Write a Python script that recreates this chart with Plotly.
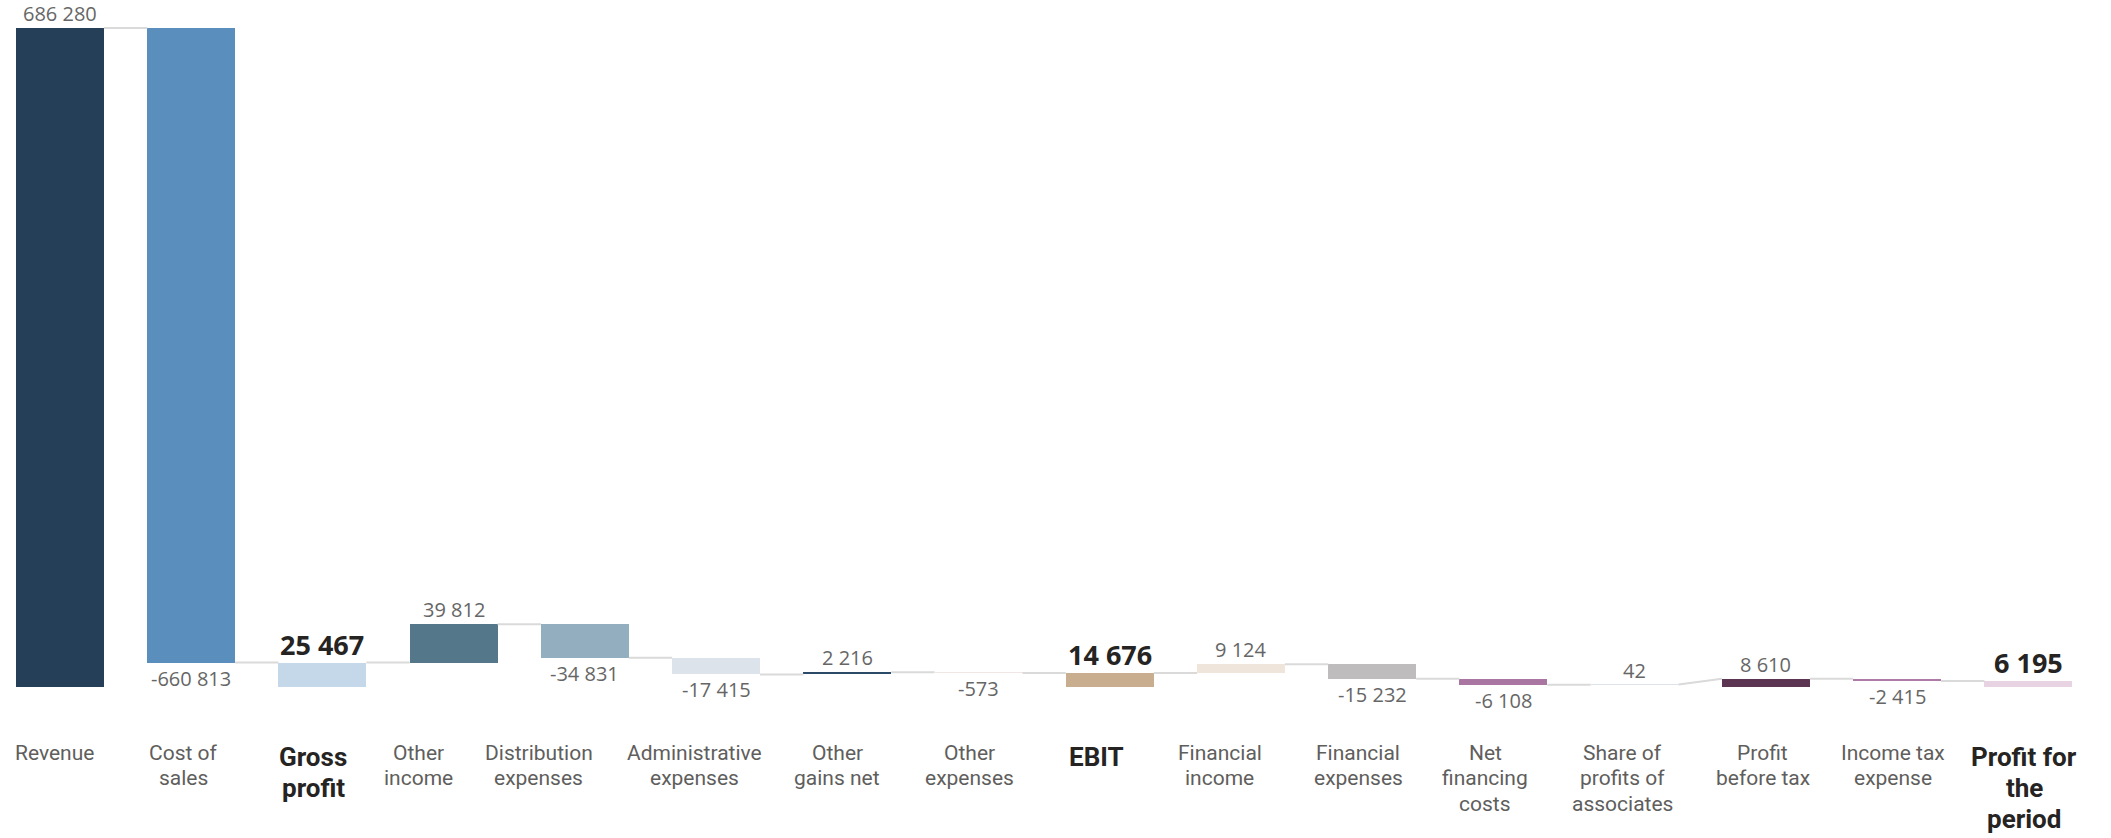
import plotly.graph_objects as go

categories = ["Revenue", "Cost of sales", "Gross profit", "Other income", "Distribution expenses",
              "Administrative expenses", "Other gains net", "Other expenses", "EBIT", "Financial income",
              "Financial expenses", "Net financing costs", "Share of profits of associates",
              "Profit before tax", "Income tax expense", "Profit for the period"]
tick_labels = ["Revenue", "Cost of<br>sales", "Gross<br>profit", "Other<br>income", "Distribution<br>expenses",
               "Administrative<br>expenses", "Other<br>gains net", "Other<br>expenses", "EBIT", "Financial<br>income",
               "Financial<br>expenses", "Net<br>financing<br>costs", "Share of<br>profits of<br>associates",
               "Profit<br>before tax", "Income tax<br>expense", "Profit for<br>the<br>period"]
values = [686280, -660813, 25467, 39812, -34831, -17415, 2216, -573, 14676, 9124, -15232, -6108, 42, 8610, -2415, 6195]
kinds = ["total", "delta", "total", "delta", "delta", "delta", "delta", "delta", "total", "delta",
         "delta", "delta", "delta", "total", "delta", "total"]
highlight = [False, False, True, False, False, False, False, False, True, False, False, False, False, False, False, True]
colors = ["#253F58", "#5A8EBD", "#C5D8E9", "#547789", "#93AEBF", "#DCE3EA", "#2B4A68", "#EEE7E3",
          "#C8AE8E", "#EFE5DB", "#BEBCBD", "#A976A2", "#DCE3EA", "#5C3553", "#AE7AA7", "#E8D3E2"]

# horizontal pixel offsets of the category labels (as laid out in the reference)
label_xshift = [-5, -8, -9, -35, -46, -22, -10, -9, -13, -21, -14, -18, -12, -3, -4, -4]

# compute bases and levels
bases, starts, ends = [], [], []
running = 0
for v, k in zip(values, kinds):
    if k == "total":
        bases.append(0)
        starts.append(v)
        ends.append(v)
        running = v
    else:
        bases.append(running)
        starts.append(running)
        running = running + v
        ends.append(running)

x = list(range(len(categories)))
bw = 0.67


def fmt(v):
    return f"{v:,}".replace(",", " ")


fig = go.Figure()

# connectors
cx, cy = [], []
for i in range(len(categories) - 1):
    cx += [x[i] + bw / 2, x[i + 1] - bw / 2, None]
    cy += [ends[i], starts[i + 1], None]
fig.add_trace(go.Scatter(x=cx, y=cy, mode="lines", line=dict(color="#DADADA", width=2),
                         hoverinfo="skip", showlegend=False))

fig.add_trace(go.Bar(
    x=x, y=values, base=bases, width=bw,
    marker=dict(color=colors, line=dict(width=0)),
    showlegend=False, hoverinfo="skip",
))

# value labels
for i, v in enumerate(values):
    top = max(bases[i], bases[i] + v)
    bot = min(bases[i], bases[i] + v)
    bold = highlight[i]
    if v >= 0:
        yv, ya, ys = top, "bottom", (-2 if bold else -1)
    else:
        yv, ya, ys = bot, "top", 0
    fig.add_annotation(
        x=x[i], y=yv, xref="x", yref="y", yanchor=ya, xanchor="center", yshift=ys,
        text=f"<b>{fmt(v)}</b>" if bold else fmt(v), showarrow=False,
        font=dict(family="Open Sans", size=27 if bold else 20,
                  color="#252423" if bold else "#666666"),
    )

# category labels, one annotation per line
for i, lab in enumerate(tick_labels):
    bold = highlight[i]
    lines = lab.split("<br>")
    first = 69.5 if bold else 65.5
    step = 31 if bold else 25.5
    for k, ln in enumerate(lines):
        fig.add_annotation(
            x=x[i], y=0, xref="x", yref="paper", yanchor="middle", xanchor="center",
            xshift=label_xshift[i], yshift=-(first + k * step),
            text=f"<b>{ln}</b>" if bold else ln, showarrow=False,
            font=dict(family="Roboto", size=26 if bold else 21,
                      color="#252423" if bold else "#605E5C"),
        )

fig.update_layout(
    width=2111, height=838,
    margin=dict(l=0, r=0, t=10, b=151),
    plot_bgcolor="white", paper_bgcolor="white",
    xaxis=dict(range=[-0.457, 15.63], showticklabels=False, showgrid=False, zeroline=False,
               showline=False, ticks=""),
    yaxis=dict(range=[0, 705025], visible=False, showgrid=False, zeroline=False),
    bargap=0,
)

fig.write_html("out.html", config={"displayModeBar": False},
               post_script="document.body.style.margin='0';")
